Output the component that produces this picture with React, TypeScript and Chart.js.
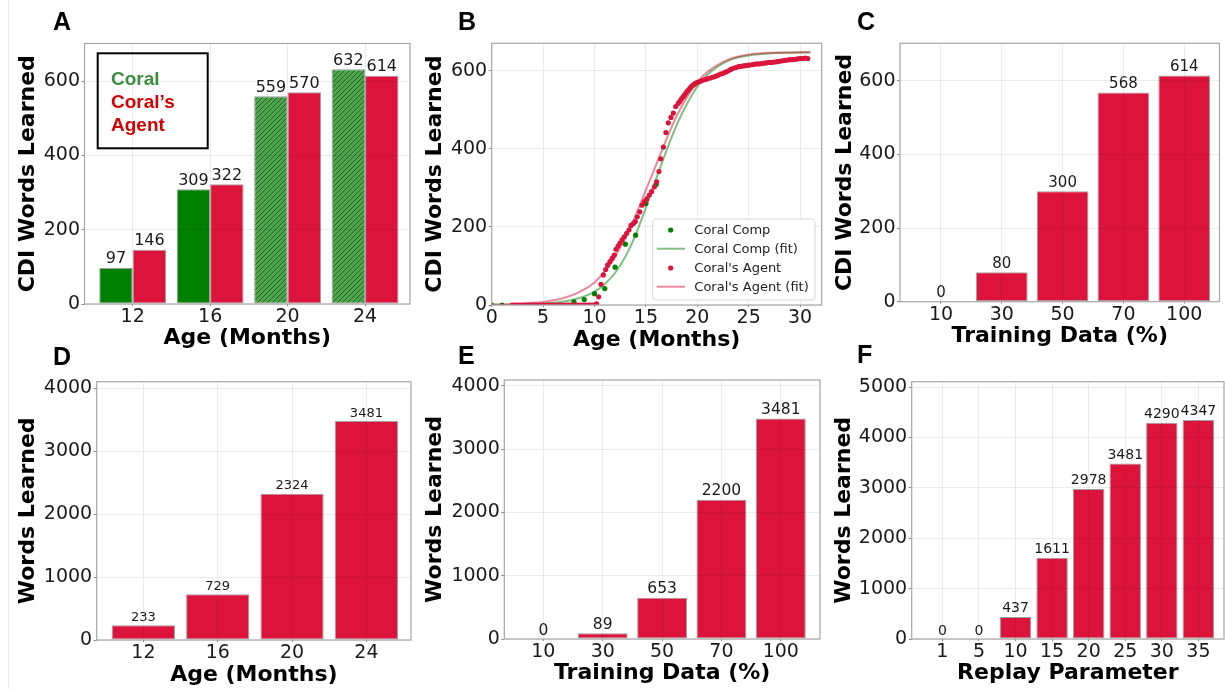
import React, { useEffect, useRef } from 'react';
import { Chart, registerables } from 'chart.js';

Chart.register(...registerables);

// ---------------- data ----------------
// Panel A
const ageLabels = ['12', '16', '20', '24'];
const coralCdi = [97, 309, 559, 632];
const agentCdi = [146, 322, 570, 614];
const cdiTicks = [0, 200, 400, 600];

// Panel B
const compMonths = [0, 1, 8, 9, 10, 11, 12, 13, 14, 15, 16];
const compWords = [0, 0, 8, 14, 29, 42, 97, 156, 179, 260, 309];
const agentMonths = [
  2, 2.25, 2.5, 2.75, 3, 3.25, 3.5, 3.75, 4, 4.25, 4.5, 4.75, 5, 5.25, 5.5, 5.75, 6, 6.25, 6.5, 6.75,
  7, 7.25, 7.5, 7.75, 8, 8.25, 8.5, 8.75, 9, 9.25, 9.5, 9.75, 10, 10.2,
  10.4, 10.63, 10.86, 11.09, 11.28, 11.5, 11.73, 11.93, 12.09, 12.29, 12.48, 12.68, 12.9, 13.13,
  13.36, 13.55, 13.78, 13.97, 14.16, 14.4, 14.62, 14.85, 15.08, 15.33, 15.56, 15.82, 16.05, 16.27,
  16.44, 16.7, 16.95, 17.18, 17.44, 17.67, 17.9, 18.15, 18.3, 18.45, 18.6, 18.75, 18.9, 19.05, 19.2,
  19.35, 19.5, 19.65, 19.8, 20.0, 20.25, 20.5, 20.75, 21.0, 21.25, 21.5, 21.75, 22.0, 22.25, 22.5,
  22.75, 23.0, 23.25, 23.5, 23.75, 24.0, 24.25, 24.5, 24.75, 25.0, 25.25, 25.5, 25.75, 26.0, 26.25,
  26.5, 26.75, 27.0, 27.25, 27.5, 27.75, 28.0, 28.25, 28.5, 28.75, 29.0, 29.25, 29.5, 29.75, 30.0,
  30.25, 30.5, 30.75,
];
const agentWords = [
  0, 0, 0, 0, 0, 0, 0, 0, 0, 0, 0, 0, 0, 0, 0, 0, 0, 0, 0, 0,
  0, 0, 0, 0, 0, 0, 0, 0, 0, 0, 0, 0, 0, 3,
  21, 53, 77, 91, 102, 111, 120, 128, 143, 151, 159, 167, 175, 184,
  193, 204, 209, 214, 226, 239, 256, 265, 272, 282, 291, 303, 316, 342,
  375, 405, 442, 467, 481, 492, 509, 517, 522, 528, 533, 538, 544, 549, 553,
  558, 562, 565, 568, 571, 573, 576, 578, 580, 582, 584, 586, 589, 592, 594,
  597, 600, 604, 607, 609, 611, 612, 613, 614, 615, 616, 617, 618, 618, 619,
  620, 621, 622, 622, 623, 624, 625, 626, 627, 628, 629, 629, 630, 631, 632,
  632, 633, 632,
];
const fitMonths = [
  0, 1, 2, 3, 4, 5, 6, 7, 8, 9, 10, 11, 12, 13, 14, 15, 16, 17, 18, 19, 20, 21, 22, 23, 24, 25, 26,
  27, 28, 29, 30, 31,
];
const compFitWords = [
  0.3, 0.5, 0.8, 1.3, 2, 3.5, 5.5, 9, 14, 22, 34, 54, 82, 124, 180, 250, 324, 396, 462, 516, 560,
  591, 612, 626, 635, 640, 643, 645, 646.5, 647, 647.5, 648,
];
const agentFitWords = [
  1, 1.5, 2.5, 3.5, 5.5, 8, 12, 18, 27, 40, 58, 86, 124, 172, 230, 295, 360, 425, 485, 533, 572,
  598, 616, 629, 637, 642, 645, 646.5, 647, 647.5, 648, 648,
];
const monthTicks = [0, 5, 10, 15, 20, 25, 30];

// Panel C
const trainLabels = ['10', '30', '50', '70', '100'];
const trainCdi = [0, 80, 300, 568, 614];

// Panel D
const ageWords = [233, 729, 2324, 3481];
const wordTicks4000 = [0, 1000, 2000, 3000, 4000];

// Panel E
const trainWords = [0, 89, 653, 2200, 3481];

// Panel F
const replayLabels = ['1', '5', '10', '15', '20', '25', '30', '35'];
const replayWords = [0, 0, 437, 1611, 2978, 3481, 4290, 4347];
const wordTicks5000 = [0, 1000, 2000, 3000, 4000, 5000];

// ---------------- styles ----------------
const CRIMSON = '#DC143C';
const GREEN = '#008000';
const GREEN_FIT = 'rgba(0,128,0,0.5)';
const RED_FIT = 'rgba(220,20,60,0.5)';
const EDGE = 'rgba(95,95,95,0.6)';
const GRID = 'rgba(0,0,0,0.075)';
const FRAME = '#a6a6a6';
const TICKC = '#8a8a8a';
const TEXT = '#1a1a1a';
const TICK_FONT = { family: 'DejaVu Sans', size: 19, lineHeight: 1.2 };
const TITLE_FONT = { family: 'DejaVu Sans', size: 22, weight: 'bold' as const, lineHeight: 1.2 };
const HALF_TITLE = 13.2;

type Spec = {
  id: string;
  letter: string;
  letterX: number;
  letterY: number;
  cx: number;
  cy: number;
  cw: number;
  ch: number;
  l: number;
  t: number;
  r: number;
  b: number;
  yTitle: string;
  yTitleX: number;
  yMax: number;
  yTicks: number[];
  xTitle: string;
  xTitleY: number;
};

function layoutPadding(s: Spec) {
  return { left: 0, top: s.t - s.cy, right: s.cx + s.cw - s.r, bottom: 0 };
}

function yScaleOpts(s: Spec) {
  return {
    type: 'linear',
    position: 'left',
    min: 0,
    max: s.yMax,
    afterBuildTicks: (sc: any) => {
      sc.ticks = s.yTicks.map((v) => ({ value: v }));
    },
    afterFit: (sc: any) => {
      sc.width = s.l - s.cx;
    },
    grid: { color: GRID, lineWidth: 1, drawTicks: true, tickLength: 3, tickColor: TICKC, z: 1 },
    border: { display: false },
    ticks: { font: TICK_FONT, color: TEXT, padding: 1.5, callback: (v: any) => String(v) },
    title: {
      display: true,
      text: s.yTitle,
      font: TITLE_FONT,
      color: '#000',
      padding: { top: s.yTitleX - s.cx - HALF_TITLE, bottom: 0 },
    },
  };
}

function xTitleOpts(s: Spec) {
  return {
    display: true,
    text: s.xTitle,
    font: TITLE_FONT,
    color: '#000',
    padding: { top: 0, bottom: s.cy + s.ch - s.xTitleY - HALF_TITLE },
  };
}

function xIndexScale(s: Spec, labels: string[], min: number, max: number) {
  return {
    type: 'linear',
    position: 'bottom',
    min,
    max,
    offset: false,
    afterBuildTicks: (sc: any) => {
      sc.ticks = labels.map((_, i) => ({ value: i }));
    },
    afterFit: (sc: any) => {
      sc.height = s.cy + s.ch - s.b;
    },
    grid: { color: GRID, offset: false, drawTicks: true, tickLength: 2, tickColor: TICKC, z: 1 },
    border: { display: false },
    ticks: {
      font: TICK_FONT,
      color: TEXT,
      padding: 0,
      maxRotation: 0,
      autoSkip: false,
      callback: (v: any) => labels[Math.round(Number(v))] ?? '',
    },
    title: xTitleOpts(s),
  };
}

function framePlugin(s: Spec) {
  return {
    id: 'frame_' + s.id,
    afterDraw(chart: any) {
      const { ctx, chartArea: a } = chart;
      ctx.save();
      ctx.strokeStyle = FRAME;
      ctx.lineWidth = 1.2;
      ctx.strokeRect(a.left, a.top, a.right - a.left, a.bottom - a.top);
      ctx.fillStyle = '#000';
      ctx.font = 'bold 25px "Liberation Sans", Arial, sans-serif';
      ctx.textAlign = 'left';
      ctx.textBaseline = 'alphabetic';
      ctx.fillText(s.letter, s.letterX - s.cx, s.letterY - s.cy);
      ctx.restore();
    },
  };
}

function valueLabelPlugin(size: number) {
  return {
    id: 'vlabels',
    afterDraw(chart: any) {
      const ctx = chart.ctx;
      ctx.save();
      ctx.font = `${size}px "DejaVu Sans"`;
      ctx.fillStyle = TEXT;
      ctx.textAlign = 'center';
      ctx.textBaseline = 'alphabetic';
      chart.data.datasets.forEach((ds: any, di: number) => {
        const meta = chart.getDatasetMeta(di);
        if (meta.type !== 'bar') return;
        meta.data.forEach((el: any, i: number) => {
          ctx.fillText(String(ds.data[i].y), el.x, el.y - 4.5);
        });
      });
      ctx.restore();
    },
  };
}

function barDataset(label: string, values: number[], colors: any, pct: number) {
  return {
    type: 'bar',
    label,
    data: values.map((v, i) => ({ x: i, y: v })),
    backgroundColor: colors,
    borderColor: EDGE,
    borderWidth: values.map((v) => (v > 0 ? 1 : 0)),
    borderSkipped: false,
    categoryPercentage: pct,
    barPercentage: 1,
  };
}

function makeHatch(): any {
  const size = 5;
  const c = document.createElement('canvas');
  c.width = size;
  c.height = size;
  const g = c.getContext('2d')!;
  g.fillStyle = '#4fa64f';
  g.fillRect(0, 0, size, size);
  g.strokeStyle = '#1f5a1f';
  g.lineWidth = 0.9;
  g.beginPath();
  g.moveTo(0, size);
  g.lineTo(size, 0);
  g.moveTo(-1, 1);
  g.lineTo(1, -1);
  g.moveTo(size - 1, size + 1);
  g.lineTo(size + 1, size - 1);
  g.stroke();
  const ctx = document.createElement('canvas').getContext('2d')!;
  return ctx.createPattern(c, 'repeat');
}

function baseOptions(s: Spec, scales: any) {
  return {
    responsive: false,
    maintainAspectRatio: false,
    animation: false,
    layout: { padding: layoutPadding(s) },
    plugins: { legend: { display: false }, tooltip: { enabled: false }, title: { display: false } },
    scales,
  };
}

// ---------------- panel specs ----------------
const specA: Spec = {
  id: 'A', letter: 'A', letterX: 53, letterY: 30,
  cx: 0, cy: 0, cw: 420, ch: 356,
  l: 84.5, t: 43.5, r: 410, b: 304,
  yTitle: 'CDI Words Learned', yTitleX: 28, yMax: 701, yTicks: cdiTicks,
  xTitle: 'Age (Months)', xTitleY: 338,
};
const specB: Spec = {
  id: 'B', letter: 'B', letterX: 458, letterY: 30,
  cx: 418, cy: 0, cw: 410, ch: 356,
  l: 491.7, t: 43.3, r: 821.7, b: 305,
  yTitle: 'CDI Words Learned', yTitleX: 435, yMax: 671, yTicks: cdiTicks,
  xTitle: 'Age (Months)', xTitleY: 340,
};
const specC: Spec = {
  id: 'C', letter: 'C', letterX: 857, letterY: 30,
  cx: 828, cy: 0, cw: 397, ch: 356,
  l: 900, t: 43.3, r: 1219.5, b: 301.7,
  yTitle: 'CDI Words Learned', yTitleX: 845, yMax: 701.5, yTicks: cdiTicks,
  xTitle: 'Training Data (%)', xTitleY: 336.7,
};
const specD: Spec = {
  id: 'D', letter: 'D', letterX: 53, letterY: 365,
  cx: 0, cy: 340, cw: 420, ch: 349,
  l: 96.7, t: 381.7, r: 411, b: 640,
  yTitle: 'Words Learned', yTitleX: 28.5, yMax: 4106, yTicks: wordTicks4000,
  xTitle: 'Age (Months)', xTitleY: 675,
};
const specE: Spec = {
  id: 'E', letter: 'E', letterX: 458, letterY: 364,
  cx: 418, cy: 340, cw: 410, ch: 349,
  l: 504.3, t: 380, r: 820, b: 639,
  yTitle: 'Words Learned', yTitleX: 435, yMax: 4090, yTicks: wordTicks4000,
  xTitle: 'Training Data (%)', xTitleY: 673.3,
};
const specF: Spec = {
  id: 'F', letter: 'F', letterX: 857, letterY: 363,
  cx: 828, cy: 340, cw: 397, ch: 349,
  l: 911.7, t: 381.7, r: 1224, b: 639,
  yTitle: 'Words Learned', yTitleX: 844, yMax: 5106, yTicks: wordTicks5000,
  xTitle: 'Replay Parameter', xTitleY: 673,
};

// ---------------- configs ----------------
function configA(s: Spec) {
  const hatch = makeHatch();
  const coralColors = coralCdi.map((_, i) => (i < 2 ? GREEN : hatch));
  const legendPlugin = {
    id: 'legendA',
    afterDraw(chart: any) {
      const ctx = chart.ctx;
      ctx.save();
      ctx.strokeStyle = '#000';
      ctx.lineWidth = 2;
      ctx.strokeRect(97.7 - s.cx, 53.3 - s.cy, 110, 95);
      ctx.font = 'bold 19px "Liberation Sans", Arial, sans-serif';
      ctx.textAlign = 'left';
      ctx.textBaseline = 'alphabetic';
      const [d0, d1] = chart.data.datasets;
      ctx.fillStyle = '#388e3c';
      ctx.fillText(d0.label, 111 - s.cx, 85 - s.cy);
      ctx.fillStyle = '#d50000';
      const words = String(d1.label).split(' ');
      ctx.fillText(words[0], 111 - s.cx, 107.5 - s.cy);
      ctx.fillText(words.slice(1).join(' '), 111 - s.cx, 130.5 - s.cy);
      ctx.restore();
    },
  };
  return {
    type: 'bar',
    data: {
      datasets: [
        barDataset('Coral', coralCdi, coralColors, 0.863),
        barDataset('Coral\u2019s Agent', agentCdi, CRIMSON, 0.863),
      ],
    },
    options: baseOptions(s, { x: xIndexScale(s, ageLabels, -0.622, 3.58), y: yScaleOpts(s) }),
    plugins: [framePlugin(s), valueLabelPlugin(16), legendPlugin],
  };
}

function configB(s: Spec) {
  const pts = (xs: number[], ys: number[]) => xs.map((x, i) => ({ x, y: ys[i] }));
  const legendPlugin = {
    id: 'legendB',
    afterDraw(chart: any) {
      const ctx = chart.ctx;
      const x0 = 652.7 - s.cx;
      const y0 = 219 - s.cy;
      const w = 162.3;
      const h = 81;
      ctx.save();
      ctx.fillStyle = 'rgba(255,255,255,0.8)';
      ctx.strokeStyle = '#d6d6d6';
      ctx.lineWidth = 1;
      ctx.beginPath();
      ctx.roundRect(x0, y0, w, h, 3);
      ctx.fill();
      ctx.stroke();
      const rows = [230, 248.7, 268, 286.7];
      ctx.font = '13px "DejaVu Sans"';
      ctx.textBaseline = 'middle';
      ctx.textAlign = 'left';
      chart.data.datasets.forEach((ds: any, i: number) => {
        const y = rows[i] - s.cy;
        if (ds.showLine) {
          ctx.strokeStyle = ds.borderColor;
          ctx.lineWidth = 2;
          ctx.beginPath();
          ctx.moveTo(656.7 - s.cx, y);
          ctx.lineTo(685 - s.cx, y);
          ctx.stroke();
        } else {
          ctx.fillStyle = ds.backgroundColor;
          ctx.beginPath();
          ctx.arc(670.7 - s.cx, y, 2.6, 0, Math.PI * 2);
          ctx.fill();
        }
        ctx.fillStyle = '#222';
        ctx.fillText(ds.label, 694.3 - s.cx, y + 0.5);
      });
      ctx.restore();
    },
  };
  return {
    type: 'scatter',
    data: {
      datasets: [
        {
          label: 'Coral Comp',
          data: pts(compMonths, compWords),
          showLine: false,
          pointRadius: 2.6,
          backgroundColor: GREEN,
          borderColor: GREEN,
          pointBorderWidth: 0,
          order: 4,
        },
        {
          label: 'Coral Comp (fit)',
          data: pts(fitMonths, compFitWords),
          showLine: true,
          pointRadius: 0,
          borderColor: GREEN_FIT,
          backgroundColor: GREEN_FIT,
          borderWidth: 2,
          cubicInterpolationMode: 'monotone',
          order: 3,
        },
        {
          label: "Coral's Agent",
          data: pts(agentMonths, agentWords),
          showLine: false,
          pointRadius: 2.6,
          backgroundColor: CRIMSON,
          borderColor: CRIMSON,
          pointBorderWidth: 0,
          order: 2,
        },
        {
          label: "Coral's Agent (fit)",
          data: pts(fitMonths, agentFitWords),
          showLine: true,
          pointRadius: 0,
          borderColor: RED_FIT,
          backgroundColor: RED_FIT,
          borderWidth: 2,
          cubicInterpolationMode: 'monotone',
          order: 1,
        },
      ],
    },
    options: baseOptions(s, {
      x: {
        type: 'linear',
        position: 'bottom',
        min: 0,
        max: 32.1,
        afterBuildTicks: (sc: any) => {
          sc.ticks = monthTicks.map((v) => ({ value: v }));
        },
        afterFit: (sc: any) => {
          sc.height = s.cy + s.ch - s.b;
        },
        grid: { color: GRID, drawTicks: true, tickLength: 2, tickColor: TICKC, z: 1 },
        border: { display: false },
        ticks: {
          font: TICK_FONT,
          color: TEXT,
          padding: 0,
          maxRotation: 0,
          autoSkip: false,
          callback: (v: any) => String(v),
        },
        title: xTitleOpts(s),
      },
      y: yScaleOpts(s),
    }),
    plugins: [framePlugin(s), legendPlugin],
  };
}

function singleBarConfig(s: Spec, labels: string[], values: number[], min: number, max: number, pct: number, labelSize: number) {
  return {
    type: 'bar',
    data: { datasets: [barDataset('Words', values, CRIMSON, pct)] },
    options: baseOptions(s, { x: xIndexScale(s, labels, min, max), y: yScaleOpts(s) }),
    plugins: [framePlugin(s), valueLabelPlugin(labelSize)],
  };
}

const panels: { spec: Spec; build: (s: Spec) => any }[] = [
  { spec: specA, build: configA },
  { spec: specB, build: configB },
  { spec: specC, build: (s) => singleBarConfig(s, trainLabels, trainCdi, -0.674, 4.58, 0.85, 15) },
  { spec: specD, build: (s) => singleBarConfig(s, ageLabels, ageWords, -0.628, 3.6, 0.85, 13) },
  { spec: specE, build: (s) => singleBarConfig(s, trainLabels, trainWords, -0.658, 4.66, 0.84, 15.5) },
  { spec: specF, build: (s) => singleBarConfig(s, replayLabels, replayWords, -0.838, 7.7, 0.86, 14) },
];

function Panel({ spec, build }: { spec: Spec; build: (s: Spec) => any }) {
  const ref = useRef<HTMLCanvasElement | null>(null);
  useEffect(() => {
    if (!ref.current) return;
    const chart = new Chart(ref.current, build(spec));
    return () => chart.destroy();
  }, [spec, build]);
  return (
    <canvas
      ref={ref}
      width={spec.cw}
      height={spec.ch}
      style={{ position: 'absolute', left: spec.cx, top: spec.cy, width: spec.cw, height: spec.ch }}
    />
  );
}

export default function App() {
  return (
    <div
      style={{
        position: 'fixed',
        left: 0,
        top: 0,
        width: 1225,
        height: 689,
        background: '#ffffff',
        overflow: 'hidden',
      }}
    >
      <div style={{ position: 'absolute', left: 8, top: 0, width: 1, height: 689, background: '#e8ebef' }} />
      {panels.map((p) => (
        <Panel key={p.spec.id} spec={p.spec} build={p.build} />
      ))}
    </div>
  );
}
